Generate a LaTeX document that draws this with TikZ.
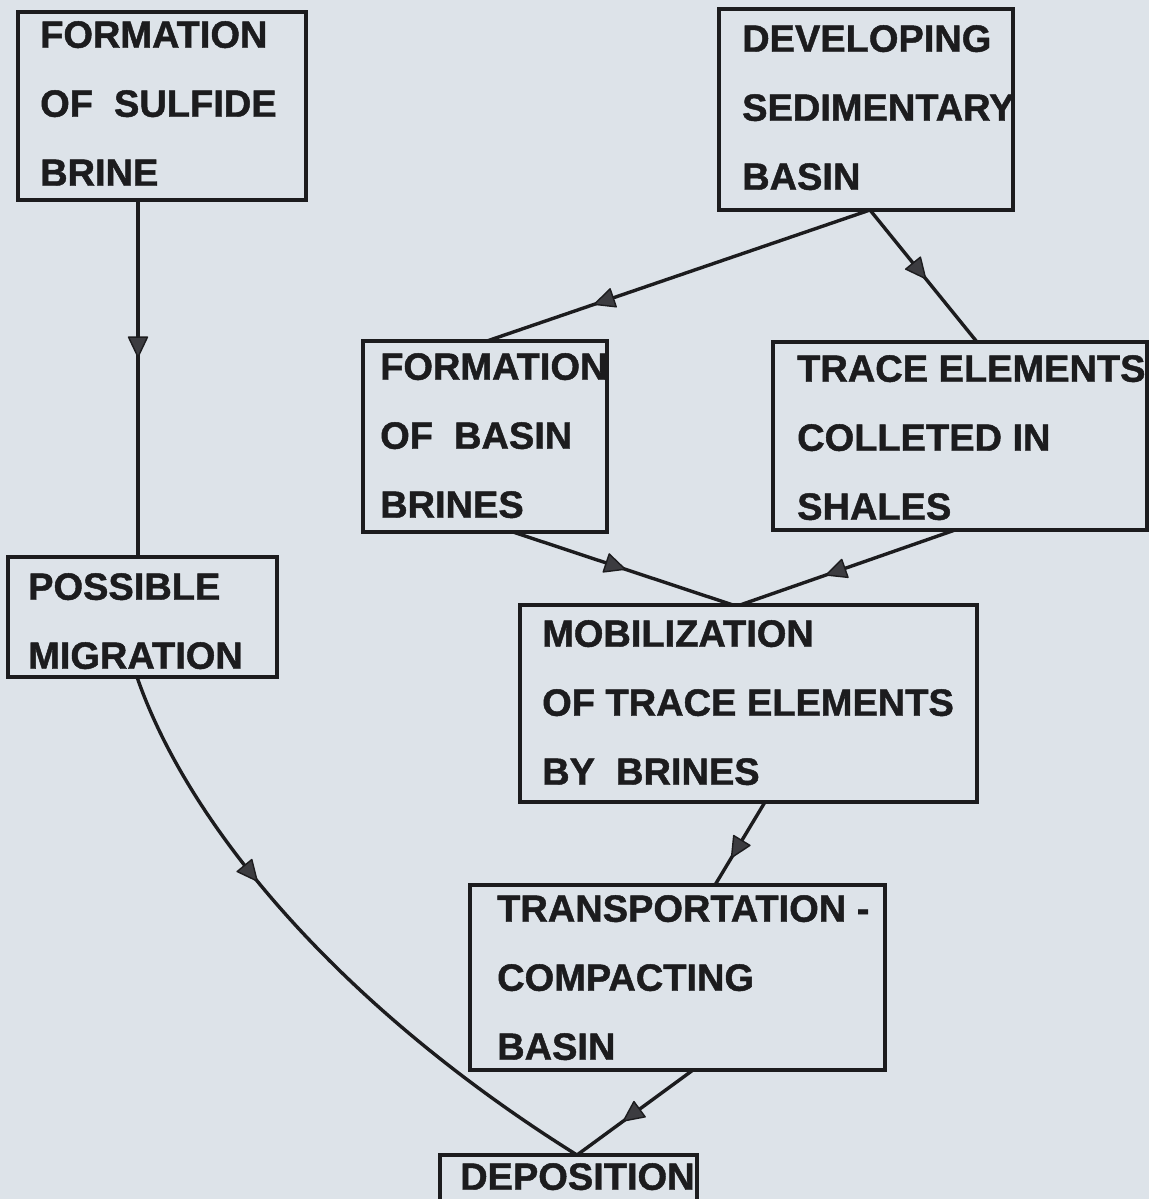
\documentclass[tikz,border=0pt]{standalone}
\usepackage{fontspec}
\setmainfont{Liberation Sans}[BoldFeatures={FakeBold=1.2}]
\usetikzlibrary{decorations.markings,calc}
\definecolor{paper}{RGB}{221,227,233}
\definecolor{ink}{RGB}{28,28,30}
\definecolor{headfill}{RGB}{60,60,64}
\newcommand{\lettering}{\fontsize{38}{69}\selectfont\bfseries}
\tikzset{
  box/.style={draw=ink, line width=3.6pt, anchor=north west, inner sep=0pt, outer sep=0pt},
  lbl/.style={anchor=north west, inner sep=0pt, align=left, font=\lettering, text=ink},
  flow/.style={draw=ink, line width=3.4pt, postaction={decorate},
    decoration={markings, mark=at position #1 with {\filldraw[fill=headfill, draw=ink, line width=1.4pt, line join=round] (0pt,0pt) -- (-20pt,9.5pt) -- (-20pt,-9.5pt) -- cycle;}}},
}
\begin{document}
\begin{tikzpicture}[x=1pt,y=-1pt]
\useasboundingbox (0,0) rectangle (1149,1199);
\fill[paper] (0,0) rectangle (1149,1199);
\clip (0,0) rectangle (1149,1199);

% boxes
\node[box, minimum width=288, minimum height=188] (sulf) at (18,12) {};
\node[box, minimum width=294, minimum height=201] (dev) at (719,9) {};
\node[box, minimum width=244, minimum height=191] (basin) at (363,341) {};
\node[box, minimum width=374, minimum height=188] (trace) at (773,342) {};
\node[box, minimum width=269, minimum height=120] (mig) at (8,557) {};
\node[box, minimum width=457, minimum height=197] (mob) at (520,605) {};
\node[box, minimum width=415, minimum height=185] (trans) at (470,885) {};
\node[box, minimum width=257, minimum height=80] (dep) at (440,1155) {};

% texts (north west at cap top of first line)
\node[lbl] (sulf-t) at (40,21) {FORMATION\\OF~~SULFIDE\\BRINE};
\node[lbl] (dev-t) at (742,25) {DEVELOPING\\SEDIMENTARY\\BASIN};
\node[lbl] (basin-t) at (380,353) {FORMATION\\OF~~BASIN\\BRINES};
\node[lbl] (trace-t) at (797,355) {TRACE~ELEMENTS\\COLLETED~IN\\SHALES};
\node[lbl] (mig-t) at (28,573) {POSSIBLE\\MIGRATION};
\node[lbl] (mob-t) at (542,620) {MOBILIZATION\\OF~TRACE~ELEMENTS\\BY~~BRINES};
\node[lbl] (trans-t) at (497,895) {TRANSPORTATION~-\\COMPACTING\\BASIN};
\node[lbl] (dep-t) at (460,1163) {DEPOSITION};

% connectors
\draw[flow=0.44] ([xshift=120]sulf.south west) -- ([xshift=130]mig.north west);
\draw[flow=0.72] ([xshift=151]dev.south west) -- ([xshift=124]basin.north west);
\draw[flow=0.52] ([xshift=151]dev.south west) -- ([xshift=204]trace.north west);
\draw[flow=0.51] ([xshift=150]basin.south west) -- ([xshift=213]mob.north west);
\draw[flow=0.60] ([xshift=182]trace.south west) -- ([xshift=220]mob.north west);
\draw[flow=0.67] ([xshift=245]mob.south west) -- ([xshift=245]trans.north west);
\draw[flow=0.60] ([xshift=223]trans.south west) -- ([xshift=137]dep.north west);
\draw[flow=0.36] ([xshift=129]mig.south west) .. controls (190,830) and (345,1010) .. ([xshift=137]dep.north west);
\end{tikzpicture}
\end{document}
